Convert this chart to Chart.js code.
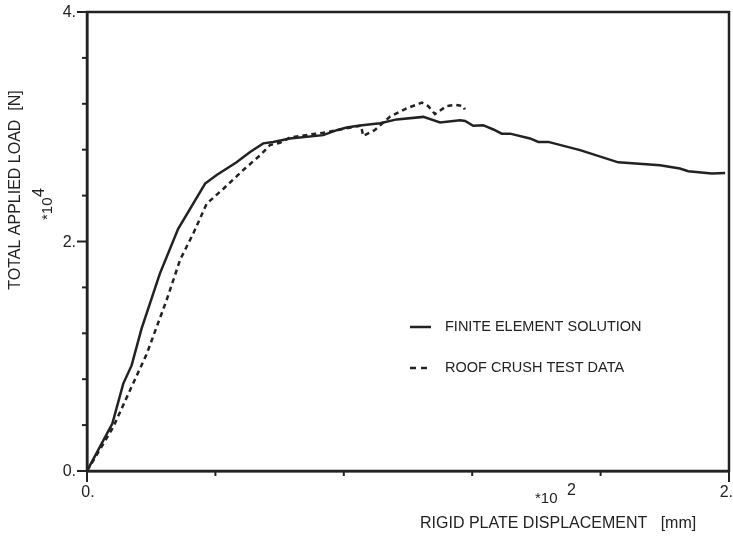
<!DOCTYPE html>
<html>
<head>
<meta charset="utf-8">
<script src="https://cdn.jsdelivr.net/npm/chart.js@4.4.1/dist/chart.umd.min.js"></script>
<style>
html,body{margin:0;padding:0;background:#fff;}
#wrap{width:733px;height:539px;position:relative;}
</style>
</head>
<body>
<div id="wrap"><canvas id="c" width="733" height="539"></canvas></div>
<script>
// x: rigid plate displacement (*10^2 mm), y: total applied load (*10^4 N)
const feX = [0, 0.079, 0.113, 0.139, 0.170, 0.227, 0.284, 0.368, 0.404, 0.466, 0.508, 0.549, 0.580, 0.632, 0.736, 0.778, 0.809, 0.850, 0.913, 0.965, 1.048, 1.100, 1.162, 1.178, 1.203, 1.234, 1.266, 1.292, 1.318, 1.380, 1.406, 1.437, 1.536, 1.655, 1.785, 1.847, 1.873, 1.946, 1.988];
const feY = [0, 0.413, 0.762, 0.920, 1.240, 1.720, 2.110, 2.505, 2.580, 2.690, 2.780, 2.855, 2.868, 2.898, 2.927, 2.970, 2.994, 3.010, 3.030, 3.064, 3.086, 3.037, 3.057, 3.050, 3.008, 3.014, 2.976, 2.940, 2.940, 2.898, 2.868, 2.868, 2.796, 2.690, 2.665, 2.636, 2.613, 2.593, 2.598];
const testX = [0, 0.020, 0.082, 0.134, 0.186, 0.248, 0.290, 0.331, 0.373, 0.425, 0.492, 0.539, 0.570, 0.601, 0.632, 0.695, 0.736, 0.788, 0.854, 0.860, 0.896, 0.945, 0.996, 1.043, 1.063, 1.084, 1.120, 1.147, 1.172, 1.177];
const testY = [0, 0.093, 0.384, 0.704, 1.020, 1.490, 1.840, 2.070, 2.330, 2.460, 2.636, 2.750, 2.840, 2.860, 2.906, 2.933, 2.947, 2.976, 3.010, 2.920, 2.970, 3.090, 3.160, 3.210, 3.180, 3.110, 3.180, 3.190, 3.180, 3.150];
const xTickLabels = {0: '0.', 2: '2.'};
const yTickLabels = {0: '0.', 2: '2.', 4: '4.'};
const seriesNames = ['FINITE ELEMENT SOLUTION', 'ROOF CRUSH TEST DATA'];

const INK = '#222';
const FONT = '"Liberation Sans", Arial, sans-serif';

function pts(xs, ys){ return xs.map((x,i)=>({x:x, y:ys[i]})); }
function labelFor(map, v){
  for (const k in map){ if (Math.abs(v - Number(k)) < 1e-6) return map[k]; }
  return '';
}

const decor = {
  id: 'decor',
  afterDraw(chart){
    const ctx = chart.ctx, a = chart.chartArea;
    const xs = chart.scales.x, ys = chart.scales.y;
    ctx.save();
    // frame
    ctx.strokeStyle = INK; ctx.lineWidth = 2.5;
    ctx.strokeRect(a.left, a.top, a.right - a.left, a.bottom - a.top);
    // ticks + tick labels
    ctx.lineWidth = 2;
    ctx.fillStyle = INK;
    ctx.font = '16px ' + FONT;
    xs.ticks.forEach(t=>{
      const px = xs.getPixelForValue(t.value);
      const lab = labelFor(xTickLabels, t.value);
      const len = lab ? 11 : 5;
      ctx.beginPath(); ctx.moveTo(px, a.bottom); ctx.lineTo(px, a.bottom + len); ctx.stroke();
      if (lab){
        const w = ctx.measureText(lab).width;
        const cx = Math.min(px + 1, chart.width - w / 2);
        ctx.textAlign = 'center'; ctx.textBaseline = 'middle'; ctx.fillText(lab, cx, a.bottom + 22);
      }
    });
    ys.ticks.forEach(t=>{
      const py = ys.getPixelForValue(t.value);
      const lab = labelFor(yTickLabels, t.value);
      const len = lab ? 10 : 5;
      ctx.beginPath(); ctx.moveTo(a.left - len, py); ctx.lineTo(a.left, py); ctx.stroke();
      if (lab){ ctx.textAlign = 'right'; ctx.textBaseline = 'middle'; ctx.fillText(lab, a.left - 11, py + 1); }
    });
    // axis titles
    ctx.textBaseline = 'middle';
    ctx.textAlign = 'left';
    ctx.font = '16px ' + FONT;
    ctx.fillText('RIGID PLATE DISPLACEMENT   [mm]', 420, 524);
    ctx.font = '15px ' + FONT;
    ctx.fillText('*10', 535, 499);
    ctx.font = '16px ' + FONT;
    ctx.fillText('2', 567, 491);
    // y title rotated
    ctx.save();
    ctx.translate(16, 190);
    ctx.rotate(-Math.PI/2);
    ctx.textAlign = 'center';
    ctx.font = '16px ' + FONT;
    ctx.fillText('TOTAL APPLIED LOAD  [N]', 0, 0);
    ctx.restore();
    ctx.save();
    ctx.translate(48, 220);
    ctx.rotate(-Math.PI/2);
    ctx.textAlign = 'left';
    ctx.font = '15px ' + FONT;
    ctx.fillText('*10', 0, 0);
    ctx.font = '16px ' + FONT;
    ctx.fillText('4', 23, -8);
    ctx.restore();
    // legend
    const ds = chart.data.datasets;
    const rows = [327, 368];
    ds.forEach((d,i)=>{
      ctx.strokeStyle = d.borderColor; ctx.lineWidth = d.borderWidth;
      ctx.setLineDash(d.legendDash || []);
      ctx.beginPath(); ctx.moveTo(410, rows[i]); ctx.lineTo(431, rows[i]); ctx.stroke();
      ctx.setLineDash([]);
      ctx.font = '14.5px ' + FONT;
      ctx.textAlign = 'left';
      ctx.fillText(d.label, 445, rows[i]);
    });
    ctx.restore();
  }
};

new Chart(document.getElementById('c'), {
  type: 'scatter',
  data: {
    datasets: [
      { label: seriesNames[0], data: pts(feX, feY), showLine: true, borderColor: INK, borderWidth: 2.5, pointRadius: 0, tension: 0 },
      { label: seriesNames[1], data: pts(testX, testY), showLine: true, borderColor: INK, borderWidth: 2.5, borderDash: [5, 4], legendDash: [6, 5], pointRadius: 0, tension: 0 }
    ]
  },
  options: {
    responsive: false,
    animation: false,
    layout: { padding: { top: 12, right: 4, left: 0, bottom: 0 } },
    plugins: { legend: { display: false }, tooltip: { enabled: false } },
    scales: {
      x: {
        type: 'linear', min: 0, max: 2,
        grid: { display: false, drawTicks: false },
        border: { display: true, color: INK, width: 2.5 },
        ticks: { display: false, stepSize: 0.4, autoSkip: false },
        afterFit: s => { s.height = 68; }
      },
      y: {
        type: 'linear', min: 0, max: 4,
        grid: { display: false, drawTicks: false },
        border: { display: true, color: INK, width: 2.5 },
        ticks: { display: false, stepSize: 0.4, autoSkip: false },
        afterFit: s => { s.width = 87; }
      }
    }
  },
  plugins: [decor]
});
</script>
</body>
</html>
